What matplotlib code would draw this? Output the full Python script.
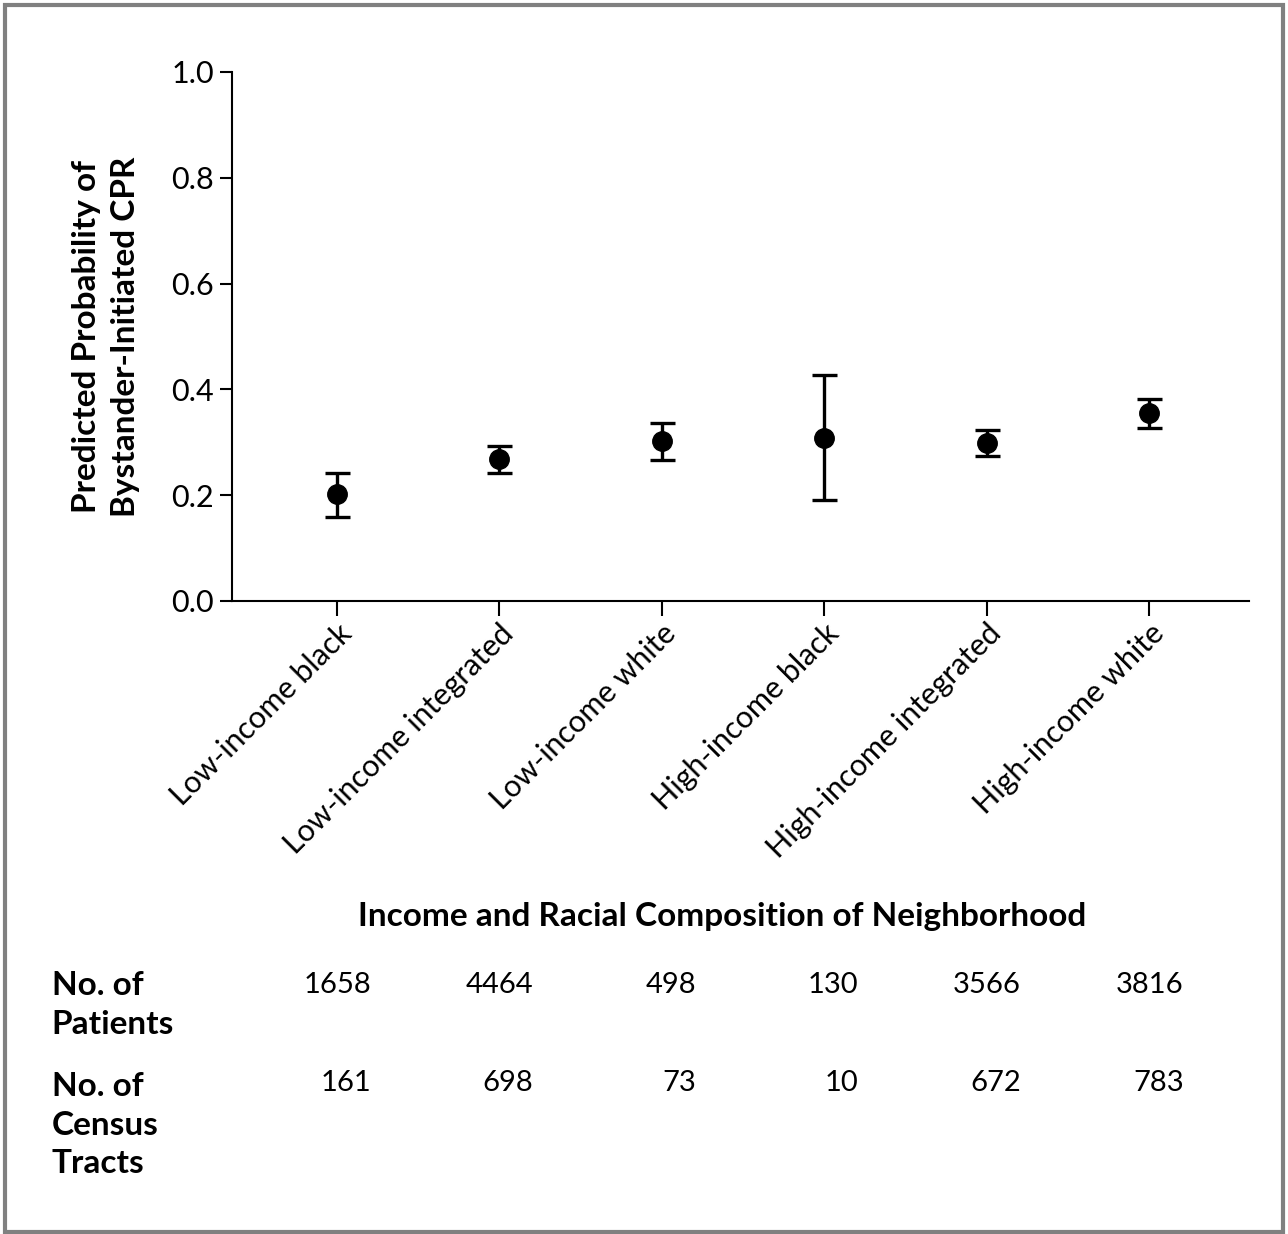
import matplotlib
matplotlib.use("Agg")
import matplotlib.pyplot as plt
import matplotlib.transforms as mtransforms
from matplotlib.patches import Rectangle

plt.rcParams['font.family'] = ['Lato', 'DejaVu Sans']

# data
categories = ["Low-income black", "Low-income integrated", "Low-income white",
              "High-income black", "High-income integrated", "High-income white"]
prob = [0.202, 0.268, 0.302, 0.308, 0.299, 0.356]
ci_low = [0.159, 0.241, 0.267, 0.190, 0.274, 0.327]
ci_high = [0.241, 0.292, 0.336, 0.427, 0.323, 0.381]
n_patients = [1658, 4464, 498, 130, 3566, 3816]
n_tracts = [161, 698, 73, 10, 672, 783]

x = list(range(len(categories)))
err_lo = [p - lo for p, lo in zip(prob, ci_low)]
err_hi = [hi - p for p, hi in zip(prob, ci_high)]

fig = plt.figure(figsize=(12.88, 12.34), dpi=100)
ax = fig.add_axes([0.180, 0.513, 0.790, 0.4287])

ax.errorbar(x, prob, yerr=[err_lo, err_hi], fmt='o', color='black',
            markersize=14, elinewidth=2.4, capsize=9, capthick=2.4)

ax.set_xlim(-0.646, 5.615)
ax.set_ylim(0, 1.0)
ax.set_yticks([0.0, 0.2, 0.4, 0.6, 0.8, 1.0])
ax.set_yticklabels(["0.0", "0.2", "0.4", "0.6", "0.8", "1.0"])
ax.set_xticks(x)
ax.set_xticklabels(categories, rotation=45, ha='right', rotation_mode='anchor')
ax.tick_params(axis='y', direction='out', length=9, width=1.5, labelsize=22, pad=4)
ax.tick_params(axis='x', direction='out', length=11, width=1.5, labelsize=22, pad=2)

for s in ['top', 'right']:
    ax.spines[s].set_visible(False)
for s in ['left', 'bottom']:
    ax.spines[s].set_linewidth(1.5)

ax.set_ylabel("Predicted Probability of\nBystander-Initiated CPR", fontsize=24,
              fontweight='bold', labelpad=22, linespacing=1.45)

fig.text(0.561, 0.257, "Income and Racial Composition of Neighborhood",
         ha='center', va='center', fontsize=24, fontweight='bold')

# table of counts under the chart
trans = mtransforms.blended_transform_factory(ax.transData, fig.transFigure)
fig.text(0.040, 0.1856, "No. of\nPatients", ha='left', va='center', fontsize=24,
         fontweight='bold', linespacing=1.38)
fig.text(0.040, 0.0883, "No. of\nCensus\nTracts", ha='left', va='center', fontsize=24,
         fontweight='bold', linespacing=1.38)
for xi, np_, nt in zip(x, n_patients, n_tracts):
    fig.text(xi + 0.21, 0.2015, str(np_), transform=trans, ha='right', va='center',
             fontsize=21)
    fig.text(xi + 0.21, 0.1225, str(nt), transform=trans, ha='right', va='center',
             fontsize=21)

# grey frame around the figure
fig.patches.append(Rectangle((0.004, 0.002), 0.992, 0.994, transform=fig.transFigure,
                             fill=False, edgecolor='#808080', linewidth=3))

fig.savefig("out.png", dpi=100)
